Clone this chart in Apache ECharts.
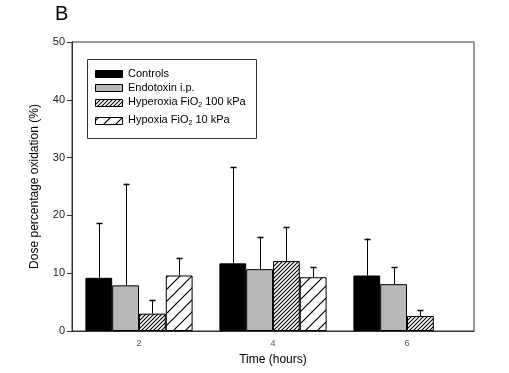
<!DOCTYPE html>
<html><head><meta charset="utf-8">
<script src="https://cdn.jsdelivr.net/npm/echarts@6/dist/echarts.min.js"></script>
<style>html,body{margin:0;padding:0;background:#fff}#c{width:509px;height:373px}</style>
</head><body><div id="c"></div>
<script>
var categories = ['2', '4', '6'];
var seriesNames = ['Controls', 'Endotoxin i.p.', 'Hyperoxia FiO2 100 kPa', 'Hypoxia FiO2 10 kPa'];
var controls = [9.2, 11.7, 9.6];
var controlsSD = [9.4, 16.6, 6.4];
var endotoxin = [7.9, 10.7, 8.1];
var endotoxinSD = [17.6, 5.6, 2.9];
var hyperoxia = [3.0, 12.1, 2.6];
var hyperoxiaSD = [2.4, 5.9, 1.0];
var hypoxia = [9.6, 9.3, null];
var hypoxiaSD = [3.1, 1.8, null];
var yTicks = [0, 10, 20, 30, 40, 50];

function hatch(size, lw) {
  var c = document.createElement('canvas');
  c.width = size; c.height = size;
  var g = c.getContext('2d');
  g.fillStyle = '#fff'; g.fillRect(0, 0, size, size);
  g.strokeStyle = '#000'; g.lineWidth = lw;
  g.beginPath();
  g.moveTo(-1, size + 1); g.lineTo(size + 1, -1);
  g.moveTo(-1, 1); g.lineTo(1, -1);
  g.moveTo(size - 1, size + 1); g.lineTo(size + 1, size - 1);
  g.stroke();
  return c;
}
var densePat = { image: hatch(4, 1.1), repeat: 'repeat' };
var sparsePat = { image: hatch(12, 1.2), repeat: 'repeat' };

var means = [controls, endotoxin, hyperoxia, hypoxia];
var sds = [controlsSD, endotoxinSD, hyperoxiaSD, hypoxiaSD];
var fills = ['#000000', '#b8b8b8', densePat, sparsePat];

var errData = [];
for (var s = 0; s < 4; s++) {
  for (var i = 0; i < categories.length; i++) {
    if (means[s][i] != null) errData.push([i, s, means[s][i], sds[s][i]]);
  }
}

var series = [];
for (var s2 = 0; s2 < 4; s2++) {
  series.push({
    name: seriesNames[s2], type: 'bar', data: means[s2],
    barGap: '0%', barCategoryGap: '20%',
    itemStyle: { color: fills[s2], borderColor: '#000', borderWidth: 1 },
    emphasis: { disabled: true }, z: 2
  });
}
series.push({
  type: 'custom', data: errData, z: 3,
  renderItem: function (params, api) {
    var cat = api.value(0), idx = api.value(1), m = api.value(2), sd = api.value(3);
    var base = api.coord([cat, m]);
    var top = api.coord([cat, m + sd]);
    var bandW = api.size([1, 0])[0];
    var bw = bandW * 0.8 / 4;
    var x = base[0] + (idx - 1.5) * bw;
    x = Math.round(x) + 0.5;
    var cap = 3;
    return { type: 'group', children: [
      { type: 'line', shape: { x1: x, y1: base[1], x2: x, y2: top[1] }, style: { stroke: '#000', lineWidth: 1 } },
      { type: 'line', shape: { x1: x - cap, y1: Math.round(top[1]) + 0.5, x2: x + cap, y2: Math.round(top[1]) + 0.5 }, style: { stroke: '#000', lineWidth: 1.5 } }
    ]};
  }
});

var legendRows = [
  { y: 70, h: 7, fill: '#000', text: 'Controls', ty: 74 },
  { y: 84, h: 7, fill: '#b8b8b8', text: 'Endotoxin i.p.', ty: 88 },
  { y: 99, h: 7, fill: densePat, text: 'Hyperoxia FiO{sub|2} 100 kPa', ty: 102 },
  { y: 117, h: 7, fill: sparsePat, text: 'Hypoxia FiO{sub|2} 10 kPa', ty: 120 }
];
var graphics = [
  { type: 'text', left: 55, top: 4, style: { text: 'B', font: '20px "Liberation Sans", Arial, sans-serif', fill: '#000' } },
  { type: 'rect', shape: { x: 87.5, y: 59.5, width: 169, height: 79 }, style: { fill: '#fff', stroke: '#333', lineWidth: 1 }, z: 10 }
];
legendRows.forEach(function (r) {
  graphics.push({ type: 'rect', shape: { x: 95.5, y: r.y + 0.5, width: 27, height: r.h }, style: { fill: r.fill, stroke: '#000', lineWidth: 1 }, z: 11 });
  graphics.push({ type: 'text', x: 128, y: r.ty, z: 11, style: {
    text: r.text, fill: '#000', verticalAlign: 'middle',
    font: '11px "Liberation Sans", Arial, sans-serif',
    rich: { sub: { fontSize: 7, verticalAlign: 'bottom', padding: [6, 0, 0, 0], fontFamily: '"Liberation Sans", Arial, sans-serif' } }
  } });
});

var chart = echarts.init(document.getElementById('c'), null, { renderer: 'canvas' });
chart.setOption({
  animation: false,
  backgroundColor: '#fff',
  textStyle: { fontFamily: '"Liberation Sans", Arial, sans-serif' },
  grid: { left: 72, top: 42, right: 35, bottom: 42, show: true, borderColor: '#333', borderWidth: 1, backgroundColor: 'transparent' },
  xAxis: {
    type: 'category', data: categories,
    name: 'Time (hours)', nameLocation: 'middle', nameGap: 23,
    nameTextStyle: { fontSize: 12, color: '#000' },
    axisLine: { lineStyle: { color: '#333', width: 1 } },
    axisTick: { alignWithLabel: true, length: 4, lineStyle: { color: '#333' } },
    axisLabel: { fontSize: 9, color: '#555', margin: 8 },
    splitLine: { show: false }
  },
  yAxis: {
    type: 'value', min: 0, max: 50, interval: 10,
    name: 'Dose percentage oxidation (%)', nameLocation: 'middle', nameGap: 31,
    nameTextStyle: { fontSize: 12, color: '#000' },
    axisLine: { show: true, lineStyle: { color: '#333', width: 1 } },
    axisTick: { show: true, length: 5, lineStyle: { color: '#333' } },
    axisLabel: { fontSize: 11, color: '#222', margin: 7, formatter: function (v) { return yTicks.indexOf(v) >= 0 ? String(v) : ''; } },
    splitLine: { show: false }
  },
  series: series,
  graphic: graphics
});
</script></body></html>
